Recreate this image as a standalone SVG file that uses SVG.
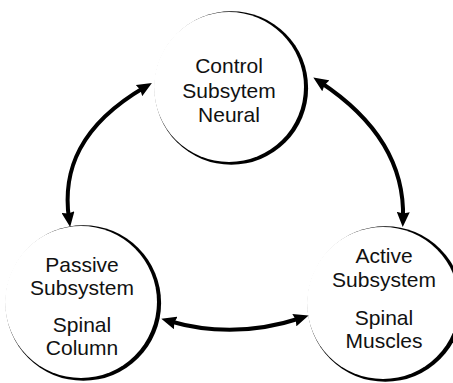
<svg xmlns="http://www.w3.org/2000/svg" width="453" height="383" viewBox="0 0 453 383">
<style>
.shadow{fill:#000}
.face{fill:#fff}
.t{font-family:"Liberation Sans",Arial,Helvetica,sans-serif;font-size:21px;fill:#111;text-anchor:middle}
.link{fill:none;stroke:#000;stroke-width:4;marker-start:url(#ah);marker-end:url(#ah)}
</style>
<defs>
<marker id="ah" markerUnits="userSpaceOnUse" markerWidth="15" markerHeight="13" viewBox="0 0 15 13" refX="7" refY="6.5" orient="auto-start-reverse">
<path d="M0,0 L15,6.5 L0,13 L1.5,6.5 z" fill="#000"/>
</marker>
</defs>
<rect width="453" height="383" fill="#fff"/>
<g id="control">
<circle class="shadow" cx="231.3" cy="88" r="76.8"/>
<circle class="face" cx="229" cy="87" r="75"/>
<text class="t" x="229" y="73">Control</text>
<text class="t" x="229" y="98">Subsytem</text>
<text class="t" x="229" y="122">Neural</text>
</g>
<g id="passive">
<circle class="shadow" cx="83.3" cy="303" r="77.8"/>
<circle class="face" cx="81" cy="302" r="76"/>
<text class="t" x="82" y="272">Passive</text>
<text class="t" x="82" y="295">Subsystem</text>
<text class="t" x="82" y="332">Spinal</text>
<text class="t" x="82" y="355">Column</text>
</g>
<g id="active">
<circle class="shadow" cx="385.3" cy="304" r="77.8"/>
<circle class="face" cx="383" cy="303" r="76"/>
<text class="t" x="384" y="263">Active</text>
<text class="t" x="384" y="287">Subsystem</text>
<text class="t" x="384" y="325">Spinal</text>
<text class="t" x="384" y="348">Muscles</text>
</g>
<g id="connectors">
<path class="link" d="M69,219 C62,170 80,125 145,87"/>
<path class="link" d="M320,82 C370,115 405,160 403,219"/>
<path class="link" d="M169,321 Q234,340 301,318"/>
</g>
</svg>
